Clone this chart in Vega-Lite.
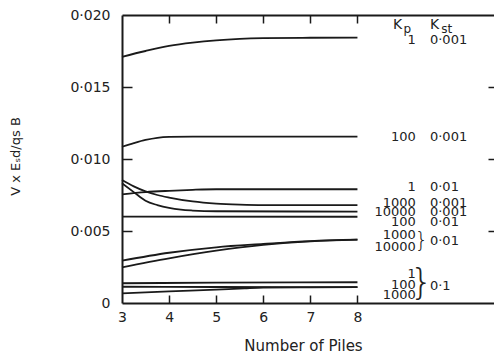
{
  "$schema": "https://vega.github.io/schema/vega-lite/v6.json",
  "width": 372,
  "height": 288,
  "autosize": {"type": "none"},
  "padding": {"left": 122, "top": 15, "right": 0, "bottom": 53},
  "background": "white",
  "config": {
    "view": {"stroke": null},
    "font": "DejaVu Sans",
    "axis": {"grid": false, "domainColor": "#1a1a1a", "domainWidth": 2, "tickColor": "#1a1a1a", "tickWidth": 1.5, "labelColor": "#222", "titleColor": "#222", "labelFontSize": 14, "titleFontSize": 15, "titleFontWeight": "normal", "labelFont": "DejaVu Sans", "titleFont": "DejaVu Sans"}
  },
  "datasets": {
    "curves": [
      {"s": "a", "x": 3, "v": 0.0171}, {"s": "a", "x": 3.5, "v": 0.0175}, {"s": "a", "x": 4, "v": 0.01785}, {"s": "a", "x": 4.5, "v": 0.01808}, {"s": "a", "x": 5, "v": 0.01824}, {"s": "a", "x": 5.5, "v": 0.01834}, {"s": "a", "x": 6, "v": 0.01839}, {"s": "a", "x": 7, "v": 0.01842}, {"s": "a", "x": 8, "v": 0.01843},
      {"s": "b", "x": 3, "v": 0.01085}, {"s": "b", "x": 3.25, "v": 0.0111}, {"s": "b", "x": 3.5, "v": 0.01132}, {"s": "b", "x": 3.75, "v": 0.01147}, {"s": "b", "x": 4, "v": 0.01153}, {"s": "b", "x": 4.5, "v": 0.01155}, {"s": "b", "x": 8, "v": 0.01155},
      {"s": "c", "x": 3, "v": 0.00755}, {"s": "c", "x": 3.5, "v": 0.0077}, {"s": "c", "x": 4, "v": 0.00779}, {"s": "c", "x": 4.5, "v": 0.00786}, {"s": "c", "x": 5, "v": 0.0079}, {"s": "c", "x": 8, "v": 0.0079},
      {"s": "d", "x": 3, "v": 0.00854}, {"s": "d", "x": 3.25, "v": 0.0081}, {"s": "d", "x": 3.5, "v": 0.00775}, {"s": "d", "x": 3.75, "v": 0.0075}, {"s": "d", "x": 4, "v": 0.00732}, {"s": "d", "x": 4.5, "v": 0.00705}, {"s": "d", "x": 5, "v": 0.0069}, {"s": "d", "x": 5.5, "v": 0.00683}, {"s": "d", "x": 6, "v": 0.0068}, {"s": "d", "x": 8, "v": 0.0068},
      {"s": "e", "x": 3, "v": 0.00831}, {"s": "e", "x": 3.25, "v": 0.0077}, {"s": "e", "x": 3.5, "v": 0.0071}, {"s": "e", "x": 3.75, "v": 0.0068}, {"s": "e", "x": 4, "v": 0.0066}, {"s": "e", "x": 4.25, "v": 0.00648}, {"s": "e", "x": 4.5, "v": 0.00642}, {"s": "e", "x": 5, "v": 0.00637}, {"s": "e", "x": 8, "v": 0.00635},
      {"s": "f", "x": 3, "v": 0.006}, {"s": "f", "x": 8, "v": 0.00599},
      {"s": "g", "x": 3, "v": 0.00294}, {"s": "g", "x": 4, "v": 0.00349}, {"s": "g", "x": 5, "v": 0.00387}, {"s": "g", "x": 6, "v": 0.0041}, {"s": "g", "x": 7, "v": 0.0043}, {"s": "g", "x": 8, "v": 0.0044},
      {"s": "h", "x": 3, "v": 0.00248}, {"s": "h", "x": 4, "v": 0.0031}, {"s": "h", "x": 5, "v": 0.00363}, {"s": "h", "x": 6, "v": 0.00403}, {"s": "h", "x": 7, "v": 0.00428}, {"s": "h", "x": 8, "v": 0.0044},
      {"s": "i", "x": 3, "v": 0.00137}, {"s": "i", "x": 5, "v": 0.00141}, {"s": "i", "x": 8, "v": 0.00144},
      {"s": "j", "x": 3, "v": 0.00113}, {"s": "j", "x": 5, "v": 0.00111}, {"s": "j", "x": 8, "v": 0.0011},
      {"s": "k", "x": 3, "v": 0.00067}, {"s": "k", "x": 4, "v": 0.00081}, {"s": "k", "x": 5, "v": 0.00093}, {"s": "k", "x": 5.6, "v": 0.00102}, {"s": "k", "x": 6, "v": 0.00107}, {"s": "k", "x": 7, "v": 0.00109}, {"s": "k", "x": 8, "v": 0.0011}
    ],
    "kp": [
      {"t": "1", "v": 0.018264},
      {"t": "100", "v": 0.011549},
      {"t": "1", "v": 0.008035},
      {"t": "1000", "v": 0.006965},
      {"t": "10000", "v": 0.006299},
      {"t": "100", "v": 0.005646},
      {"t": "1000", "v": 0.004722},
      {"t": "10000", "v": 0.00391},
      {"t": "1", "v": 0.001993},
      {"t": "100", "v": 0.00125},
      {"t": "1000", "v": 0.000556}
    ],
    "kst": [
      {"t": "0·001", "v": 0.018264},
      {"t": "0·001", "v": 0.011549},
      {"t": "0·01", "v": 0.008035},
      {"t": "0·001", "v": 0.006965},
      {"t": "0·001", "v": 0.006299},
      {"t": "0·01", "v": 0.005646},
      {"t": "0·01", "v": 0.004306},
      {"t": "0·1", "v": 0.00118}
    ],
    "hdrK": [
      {"t": "K", "x": 8.755, "v": 0.019306},
      {"t": "K", "x": 9.541, "v": 0.019306}
    ],
    "hdrSub": [
      {"t": "p", "x": 8.98, "v": 0.01906},
      {"t": "st", "x": 9.78, "v": 0.01906}
    ],
    "braces": [
      {"g": "pair", "t": "}", "v": 0.00431},
      {"g": "triple", "t": "}", "v": 0.00139}
    ]
  },
  "layer": [
    {
      "data": {"name": "curves"},
      "mark": {"type": "line", "color": "#1a1a1a", "strokeWidth": 1.8, "interpolate": "monotone"},
      "encoding": {
        "x": {"field": "x", "type": "quantitative", "scale": {"domain": [3, 10.9], "nice": false, "zero": false},
          "axis": {"orient": "bottom", "values": [3, 4, 5, 6, 7, 8], "ticks": false, "labelPadding": 7, "labelFlush": false, "title": "Number of Piles", "titleX": 181, "titleY": 42, "titleBaseline": "middle", "titleAnchor": null}},
        "y": {"field": "v", "type": "quantitative", "scale": {"domain": [0, 0.02], "nice": false},
          "axis": {"orient": "left", "values": [0, 0.005, 0.01, 0.015, 0.02], "ticks": false, "labelPadding": 12, "labelFlush": false, "labelExpr": "datum.value === 0 ? '0' : replace(format(datum.value, '.3f'), '.', '·')", "title": "V x Eₛd/qs B", "titleX": -107, "titleY": 141, "titleAngle": 270, "titleAlign": "center", "titleBaseline": "middle", "titleFontSize": 13}},
        "detail": {"field": "s"}
      }
    },
    {
      "data": {"name": "kp"},
      "mark": {"type": "text", "align": "right", "baseline": "middle", "fontSize": 13, "color": "#222"},
      "encoding": {
        "x": {"datum": 9.24, "type": "quantitative",
          "axis": {"orient": "bottom", "offset": -8, "values": [4, 5, 6, 7, 8], "ticks": true, "tickSize": 8, "labels": false, "domain": false, "title": null}},
        "y": {"field": "v", "type": "quantitative",
          "axis": {"orient": "left", "offset": -10, "values": [0.005, 0.01, 0.015], "ticks": true, "tickSize": 10, "labels": false, "domain": false, "title": null}},
        "text": {"field": "t"}
      }
    },
    {
      "data": {"name": "kst"},
      "mark": {"type": "text", "align": "left", "baseline": "middle", "fontSize": 13, "color": "#222"},
      "encoding": {
        "x": {"datum": 9.54, "type": "quantitative",
          "axis": {"orient": "top", "ticks": false, "labels": false, "title": null}},
        "y": {"field": "v", "type": "quantitative",
          "axis": {"orient": "right", "offset": -6, "values": [0.005, 0.01, 0.015], "ticks": true, "tickSize": 6, "labels": false, "domain": false, "title": null}},
        "text": {"field": "t"}
      }
    },
    {
      "data": {"name": "hdrK"},
      "mark": {"type": "text", "align": "left", "baseline": "middle", "fontSize": 14, "color": "#222"},
      "encoding": {
        "x": {"field": "x", "type": "quantitative",
          "axis": {"orient": "top", "offset": -8, "values": [4, 5, 6, 7, 8], "ticks": true, "tickSize": 8, "labels": false, "domain": false, "title": null}},
        "y": {"field": "v", "type": "quantitative", "axis": null},
        "text": {"field": "t"}
      }
    },
    {
      "data": {"name": "hdrSub"},
      "mark": {"type": "text", "align": "left", "baseline": "middle", "fontSize": 12, "color": "#222"},
      "encoding": {
        "x": {"field": "x", "type": "quantitative", "axis": null},
        "y": {"field": "v", "type": "quantitative", "axis": null},
        "text": {"field": "t"}
      }
    },
    {
      "data": {"name": "braces"},
      "transform": [{"filter": "datum.g === 'pair'"}],
      "mark": {"type": "text", "align": "center", "baseline": "middle", "fontSize": 21, "fontWeight": 200, "color": "#222"},
      "encoding": {
        "x": {"datum": 9.36, "type": "quantitative", "axis": null},
        "y": {"field": "v", "type": "quantitative", "axis": null},
        "text": {"field": "t"}
      }
    },
    {
      "data": {"name": "braces"},
      "transform": [{"filter": "datum.g === 'triple'"}],
      "mark": {"type": "text", "align": "center", "baseline": "middle", "fontSize": 36, "fontWeight": 200, "color": "#222"},
      "encoding": {
        "x": {"datum": 9.36, "type": "quantitative", "axis": null},
        "y": {"field": "v", "type": "quantitative", "axis": null},
        "text": {"field": "t"}
      }
    }
  ],
  "resolve": {"axis": {"x": "independent", "y": "independent"}}
}
